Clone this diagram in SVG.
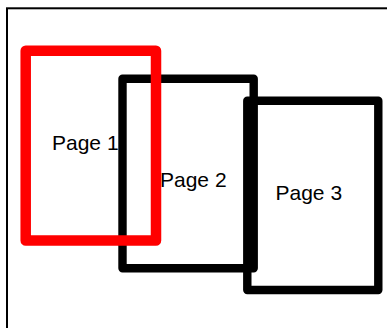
<svg xmlns="http://www.w3.org/2000/svg" width="387" height="328" viewBox="0 0 387 328">
  <style>
    .page { fill: none; stroke: #000000; stroke-width: 8.4; stroke-linejoin: round; }
    .sel { fill: none; stroke: #ff0000; stroke-width: 10.5; stroke-linejoin: round; }
    .frame { fill: none; stroke: #000000; stroke-width: 2; }
    .label { font-family: "Liberation Sans", Arial, sans-serif; font-size: 21px; fill: #000000; }
  </style>
  <rect x="0" y="0" width="387" height="328" fill="#ffffff"/>
  <g id="frame">
    <rect class="frame" x="7" y="8.3" width="420" height="360"/>
  </g>
  <g id="connectors"/>
  <g id="page2">
    <rect class="page" x="122.5" y="78.8" width="131.2" height="189.4"/>
    <text class="label" x="160" y="187">Page 2</text>
  </g>
  <g id="page3">
    <rect class="page" x="247.3" y="100.8" width="131" height="189.2"/>
    <text class="label" x="275.5" y="200">Page 3</text>
  </g>
  <g id="page1">
    <rect class="sel" x="25.7" y="50.8" width="130.3" height="189.7"/>
    <text class="label" x="52" y="149.5">Page 1</text>
  </g>
</svg>
